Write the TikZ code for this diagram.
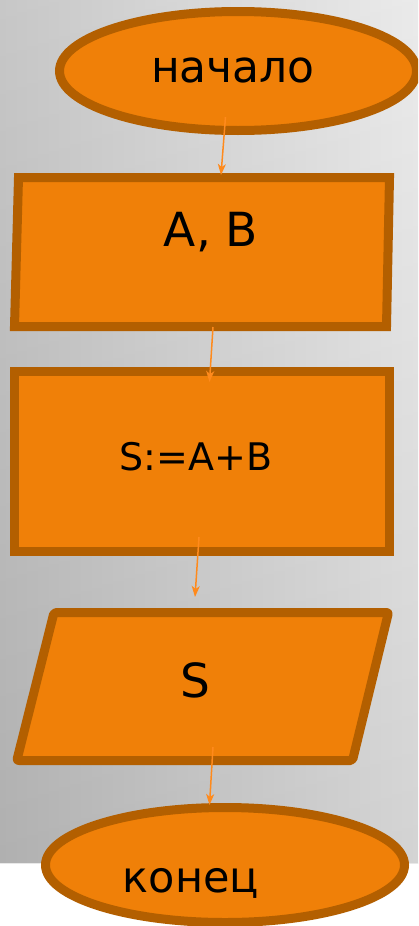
\documentclass[tikz,border=0pt]{standalone}
\usepackage{fontspec}
\setmainfont{DejaVu Sans}
\usetikzlibrary{arrows.meta}
\definecolor{fillor}{HTML}{F08008}
\definecolor{lineor}{HTML}{B35F00}
\definecolor{arrowor}{HTML}{FF8A1C}
\definecolor{bgL}{HTML}{C2C2C2}
\definecolor{bgR}{HTML}{E9E9E9}
\tikzset{
  shapebox/.style={fill=fillor, draw=lineor, line width=9pt, line join=miter},
  label/.style={inner sep=0pt, anchor=base, text=black},
  flow/.style={draw=arrowor, line width=1.5pt, -{Stealth[length=11pt,width=8pt,inset=3pt]}}
}
\begin{document}
\begin{tikzpicture}[x={(1pt,0pt)}, y={(0pt,-1pt)}]
\useasboundingbox (0,0) rectangle (418,926);
\begin{scope}
\clip (0,0) rectangle (418,926);
% background
\shade[left color=bgL, right color=bgR] (0,0) rectangle (418,863);
\fill[white] (0,863) rectangle (418,926);
\shade[top color=white, bottom color=black, opacity=0.09] (0,0) rectangle (418,863);
% shapes
\draw[shapebox] (238,71) ellipse [x radius=178.5, y radius=59.5];
\draw[shapebox] (18.5,177.5) -- (389.5,177.5) -- (386.5,326.5) -- (14.5,326.5) -- cycle;
\draw[shapebox] (14.5,371.5) rectangle (389.5,551.5);
\draw[shapebox, rounded corners=2pt, line join=round] (54,612.5) -- (388.5,612.5) -- (352.5,760.5) -- (16.8,760.5) -- cycle;
\draw[shapebox] (225,865) ellipse [x radius=179.5, y radius=57.5];
\end{scope}
% texts
\node[label, font=\fontsize{44}{48}\selectfont] (start) at (233,82) {начало};
\node[label, font=\fontsize{47}{52}\selectfont] (input) at (211,246) {A, B};
\node[label, font=\fontsize{38}{42}\selectfont] (calc) at (196,470) {S:=A+B};
\node[label, font=\fontsize{47}{52}\selectfont] (output) at (195.5,697) {S};
\node[label, font=\fontsize{43}{48}\selectfont] (stop) at (191,892) {конец};
% connector ends
\coordinate (a1s) at (225.5,117);
\coordinate (a1e) at (221,175);
\coordinate (a2s) at (213,327);
\coordinate (a2e) at (209.5,382);
\coordinate (a3s) at (199,537);
\coordinate (a3e) at (195,597);
\coordinate (a4s) at (213,747);
\coordinate (a4e) at (209.5,805);
\draw[flow] (a1s) -- (a1e);
\draw[flow] (a2s) -- (a2e);
\draw[flow] (a3s) -- (a3e);
\draw[flow] (a4s) -- (a4e);
\end{tikzpicture}
\end{document}
